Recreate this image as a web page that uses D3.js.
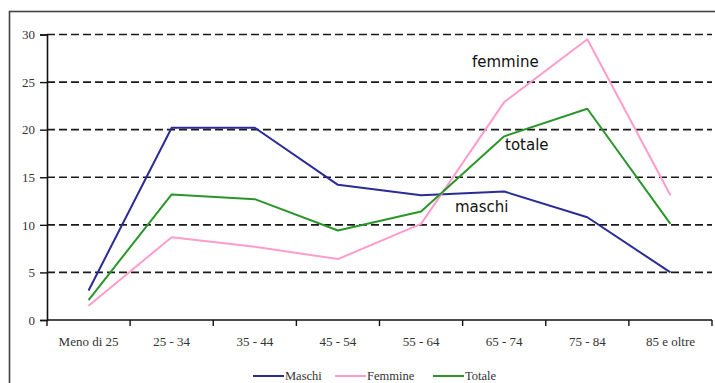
<!DOCTYPE html>
<html>
<head>
<meta charset="utf-8">
<script src="https://cdn.jsdelivr.net/npm/d3@7"></script>
<style>
  html, body { margin: 0; padding: 0; background: #fff; }
  svg { display: block; }
  .serif { font-family: "Liberation Serif", "DejaVu Serif", "Times New Roman", Times, serif; }
  .sans { font-family: "DejaVu Sans", Verdana, sans-serif; }
</style>
</head>
<body>
<svg id="chart" width="715" height="383"></svg>
<script>
// Age groups on the x axis
const categories = ["Meno di 25", "25 - 34", "35 - 44", "45 - 54", "55 - 64", "65 - 74", "75 - 84", "85 e oltre"];
// Percentages per age group
const maschi  = [3.1, 20.2, 20.2, 14.2, 13.1, 13.5, 10.8, 5.0];
const femmine = [1.5, 8.7, 7.7, 6.4, 10.1, 22.9, 29.5, 13.1];
const totale  = [2.1, 13.2, 12.7, 9.4, 11.4, 19.3, 22.2, 10.1];
const yTicks = [0, 5, 10, 15, 20, 25, 30];

const series = [
  { name: "Maschi",  values: maschi,  color: "#2b2b96" },
  { name: "Femmine", values: femmine, color: "#ff9ccc" },
  { name: "Totale",  values: totale,  color: "#2a962a" }
];

const svg = d3.select("#chart");

// Outer frame (top and left edges visible inside the window)
svg.append("rect")
  .attr("x", 9.5).attr("y", 11.5)
  .attr("width", 720).attr("height", 400)
  .attr("fill", "none").attr("stroke", "#444").attr("stroke-width", 1.6);

const plotLeft = 47, plotRight = 712, plotTop = 34.5, plotBottom = 320;

const x = d3.scaleBand().domain(categories).range([plotLeft, plotRight]);
const y = d3.scaleLinear().domain([0, 30]).range([plotBottom, plotTop]);

// Dashed horizontal grid
svg.append("g")
  .selectAll("line")
  .data(yTicks.filter(d => d > 0))
  .join("line")
  .attr("x1", plotLeft).attr("x2", plotRight)
  .attr("y1", d => y(d)).attr("y2", d => y(d))
  .attr("stroke", "#1a1a1a")
  .attr("stroke-width", 1.6)
  .attr("stroke-dasharray", "8,4");

// Y axis
const yAxis = svg.append("g")
  .attr("transform", `translate(${plotLeft},0)`)
  .call(d3.axisLeft(y).tickValues(yTicks).tickSize(7).tickPadding(5).tickFormat(d3.format("d")));
yAxis.attr("font-family", null).attr("font-size", null);
yAxis.select(".domain").attr("stroke", "#111").attr("stroke-width", 1.6);
yAxis.selectAll(".tick line").attr("stroke", "#111").attr("stroke-width", 1.4);
yAxis.selectAll(".tick text")
  .attr("class", "serif")
  .style("font-size", "13px").attr("fill", "#333");

// X axis with ticks at band boundaries
const xAxis = svg.append("g")
  .attr("transform", `translate(0,${plotBottom})`);
xAxis.append("line")
  .attr("x1", plotLeft).attr("x2", plotRight)
  .attr("stroke", "#111").attr("stroke-width", 1.6);
const bounds = categories.map(c => x(c)).concat([x(categories[categories.length - 1]) + x.bandwidth()]);
xAxis.selectAll("line.tk")
  .data(bounds)
  .join("line")
  .attr("class", "tk")
  .attr("x1", d => d).attr("x2", d => d)
  .attr("y1", 0).attr("y2", 6)
  .attr("stroke", "#111").attr("stroke-width", 1.4);
xAxis.selectAll("text")
  .data(categories)
  .join("text")
  .attr("class", "serif")
  .attr("x", d => x(d) + x.bandwidth() / 2)
  .attr("y", 26)
  .attr("text-anchor", "middle")
  .style("font-size", "13px").attr("fill", "#333")
  .text(d => d);

// Series lines
const line = d3.line()
  .x((d, i) => x(categories[i]) + x.bandwidth() / 2)
  .y(d => y(d));

svg.append("g")
  .selectAll("path")
  .data(series)
  .join("path")
  .attr("d", d => line(d.values))
  .attr("fill", "none")
  .attr("stroke", d => d.color)
  .attr("stroke-width", 2)
  .attr("stroke-linejoin", "round");

// In-plot series labels
const notes = [
  { text: "femmine", x: 472, y: 67 },
  { text: "totale",  x: 505, y: 150 },
  { text: "maschi",  x: 455, y: 212 }
];
svg.append("g")
  .selectAll("text")
  .data(notes)
  .join("text")
  .attr("class", "sans")
  .attr("x", d => d.x).attr("y", d => d.y)
  .style("font-size", "15px").attr("fill", "#111")
  .text(d => d.text);

// Legend
const legendItems = [
  { s: series[0], x: 253 },
  { s: series[1], x: 335 },
  { s: series[2], x: 433 }
];
const lg = svg.append("g").attr("transform", "translate(0,376)");
lg.selectAll("line")
  .data(legendItems)
  .join("line")
  .attr("x1", d => d.x).attr("x2", d => d.x + 31)
  .attr("y1", 0).attr("y2", 0)
  .attr("stroke", d => d.s.color).attr("stroke-width", 2);
lg.selectAll("text")
  .data(legendItems)
  .join("text")
  .attr("class", "serif")
  .attr("x", d => d.x + 32).attr("y", 4)
  .style("font-size", "12.5px").attr("fill", "#333")
  .text(d => d.s.name);
</script>
</body>
</html>
